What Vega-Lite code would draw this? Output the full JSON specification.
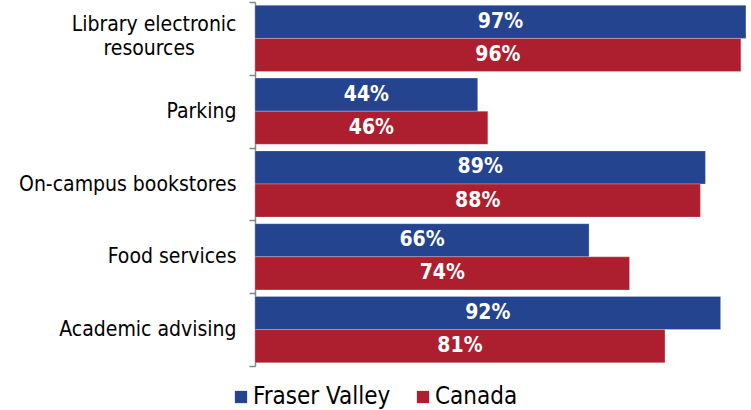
{
  "$schema": "https://vega.github.io/schema/vega-lite/v6.json",
  "autosize": {"type": "none"},
  "padding": {"left": 255, "top": 2, "right": 0, "bottom": 44},
  "width": 496,
  "height": 364,
  "background": "white",
  "config": {
    "view": {"stroke": null},
    "font": "DejaVu Sans Condensed"
  },
  "data": {
    "values": [
      {"item": "Library electronic resources", "series": "Fraser Valley", "value": 0.97},
      {"item": "Library electronic resources", "series": "Canada", "value": 0.96},
      {"item": "Parking", "series": "Fraser Valley", "value": 0.44},
      {"item": "Parking", "series": "Canada", "value": 0.46},
      {"item": "On-campus bookstores", "series": "Fraser Valley", "value": 0.89},
      {"item": "On-campus bookstores", "series": "Canada", "value": 0.88},
      {"item": "Food services", "series": "Fraser Valley", "value": 0.66},
      {"item": "Food services", "series": "Canada", "value": 0.74},
      {"item": "Academic advising", "series": "Fraser Valley", "value": 0.92},
      {"item": "Academic advising", "series": "Canada", "value": 0.81}
    ]
  },
  "encoding": {
    "y": {
      "field": "item",
      "type": "nominal",
      "sort": null,
      "scale": {"paddingInner": 0, "paddingOuter": 0},
      "axis": {
        "title": null,
        "domainColor": "#868686",
        "domainWidth": 1.5,
        "tickColor": "#868686",
        "tickWidth": 1.5,
        "tickSize": 6,
        "tickBand": "extent",
        "labelPadding": 13,
        "labelFontSize": 21,
        "labelColor": "#000000",
        "labelFont": "DejaVu Sans Condensed",
        "labelLineHeight": 24,
        "labelLimit": 300,
        "labelOffset": {"condition": {"test": "datum.value == 'Library electronic resources'", "value": -14}, "value": 0},
        "labelExpr": "datum.label == 'Library electronic resources' ? ['Library electronic', 'resources\u2800\u2800\u2800'] : datum.label"
      }
    },
    "yOffset": {
      "field": "series",
      "type": "nominal",
      "sort": ["Fraser Valley", "Canada"],
      "scale": {"paddingOuter": 0.1, "paddingInner": 0}
    }
  },
  "layer": [
    {
      "mark": {"type": "bar", "stroke": "white", "strokeOpacity": 0.35, "strokeWidth": 0.7},
      "encoding": {
        "x": {
          "field": "value",
          "type": "quantitative",
          "scale": {"domain": [0, 0.98], "nice": false},
          "axis": null
        },
        "color": {
          "field": "series",
          "type": "nominal",
          "sort": ["Fraser Valley", "Canada"],
          "scale": {"domain": ["Fraser Valley", "Canada"], "range": ["#25448f", "#ad1f2e"]},
          "legend": {
            "title": null,
            "orient": "none",
            "direction": "horizontal",
            "legendX": -26,
            "legendY": 383,
            "symbolType": "square",
            "symbolSize": 150,
            "symbolStrokeWidth": 0,
            "symbolOpacity": 1,
            "labelFontSize": 24,
            "labelFont": "DejaVu Sans Condensed",
            "labelColor": "#000000",
            "labelOffset": 0,
            "columnPadding": 20,
            "padding": 0,
            "labelLimit": 300
          }
        }
      }
    },
    {
      "mark": {"type": "text", "color": "white", "fontWeight": "bold", "fontSize": 21, "font": "DejaVu Sans Condensed", "align": "center", "baseline": "middle"},
      "encoding": {
        "x": {
          "field": "value",
          "type": "quantitative",
          "stack": "zero",
          "bandPosition": 0.5,
          "scale": {"domain": [0, 0.98], "nice": false}
        },
        "text": {"field": "value", "type": "quantitative", "format": ".0%"},
        "detail": {"field": "series"}
      }
    }
  ]
}
